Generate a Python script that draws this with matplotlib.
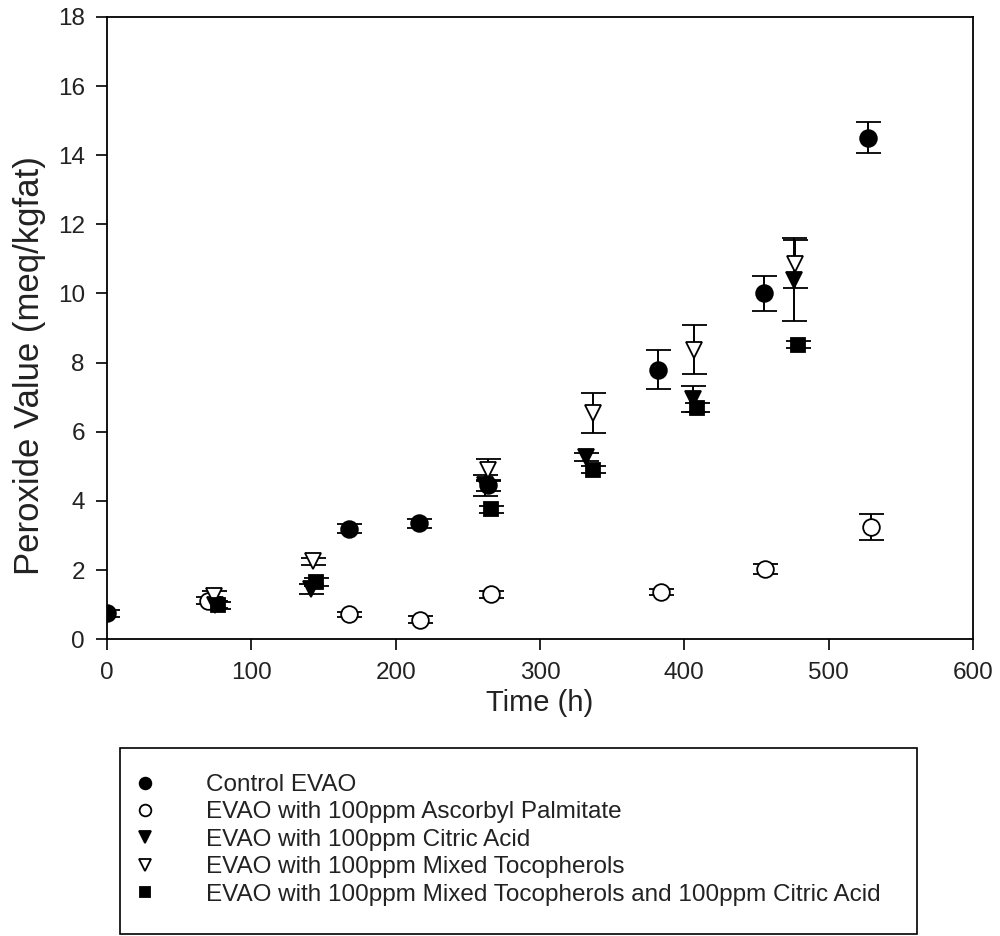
import matplotlib.pyplot as plt
from matplotlib.patches import Rectangle

plt.rcParams['font.family'] = ['Liberation Sans', 'DejaVu Sans']

# --- data (time in h, peroxide value in meq/kg fat) ---
control_t = [0, 168, 216, 264, 382, 455, 527]
control_pv = [0.75, 3.2, 3.35, 4.45, 7.8, 10.0, 14.5]
control_err = [0.1, 0.12, 0.12, 0.15, 0.57, 0.52, 0.45]

asc_t = [70, 168, 217, 266, 384, 456, 529]
asc_pv = [1.12, 0.72, 0.56, 1.3, 1.37, 2.03, 3.24]
asc_err = [0.1, 0.08, 0.1, 0.1, 0.08, 0.15, 0.37]

citric_t = [75, 141, 262, 332, 406, 476]
citric_pv = [1.0, 1.45, 4.45, 5.27, 6.95, 10.4]
citric_err = [0.1, 0.15, 0.3, 0.12, 0.38, 1.2]

toco_t = [74, 143, 264, 337, 407, 477]
toco_pv = [1.25, 2.25, 4.9, 6.55, 8.38, 10.85]
toco_err = [0.15, 0.1, 0.32, 0.58, 0.7, 0.7]

mix_t = [77, 145, 266, 337, 409, 479]
mix_pv = [0.98, 1.65, 3.76, 4.9, 6.7, 8.52]
mix_err = [0.1, 0.12, 0.1, 0.1, 0.12, 0.1]

labels = ['Control EVAO',
          'EVAO with 100ppm Ascorbyl Palmitate',
          'EVAO with 100ppm Citric Acid',
          'EVAO with 100ppm Mixed Tocopherols',
          'EVAO with 100ppm Mixed Tocopherols and 100ppm Citric Acid']

series = [
    (control_t, control_pv, control_err, 'o', 'black'),
    (asc_t, asc_pv, asc_err, 'o', 'white'),
    (citric_t, citric_pv, citric_err, 'v', 'black'),
    (toco_t, toco_pv, toco_err, 'v', 'white'),
    (mix_t, mix_pv, mix_err, 's', 'black'),
]

fig = plt.figure(figsize=(10, 9.36), dpi=100)
ax = fig.add_axes([0.107, 0.317, 0.866, 0.665])

handles = []
for (t, pv, err, mk, fc), lab in zip(series, labels):
    h = ax.errorbar(t, pv, yerr=err, fmt=mk, color='black', mfc=fc, mec='black',
                    ms=12 if mk != 's' else 10, mew=1.3, ecolor='black',
                    elinewidth=1.4, capsize=9, capthick=1.4, label=lab)
    handles.append(h)

ax.set_xlim(0, 600)
ax.set_ylim(0, 18)
ax.set_xticks(range(0, 601, 100))
ax.set_yticks(range(0, 19, 2))
ax.tick_params(direction='out', length=8, width=1.2, labelsize=17.5, pad=8,
               top=False, right=False, labelcolor='#222222')
for s in ax.spines.values():
    s.set_linewidth(1.3)
ax.set_xlabel('Time (h)', fontsize=21, labelpad=4, color='#222222')
ax.set_ylabel('Peroxide Value (meq/kgfat)', fontsize=25, color='#222222')
ax.yaxis.set_label_coords(-0.07, 0.44)

# legend box below the plot
fig.patches.append(Rectangle((0.12, 0.002), 0.797, 0.199, transform=fig.transFigure,
                             fill=False, edgecolor='black', linewidth=1.2))
leg = fig.legend(handles=[h[0] for h in handles], labels=labels, loc='upper left',
                 bbox_to_anchor=(0.126, 0.186), frameon=False, fontsize=17.5,
                 markerscale=0.7, handlelength=0.6, handletextpad=2.2,
                 labelspacing=0.22, borderpad=0)
for txt in leg.get_texts():
    txt.set_color('#222222')

fig.savefig('out.png', dpi=100)
